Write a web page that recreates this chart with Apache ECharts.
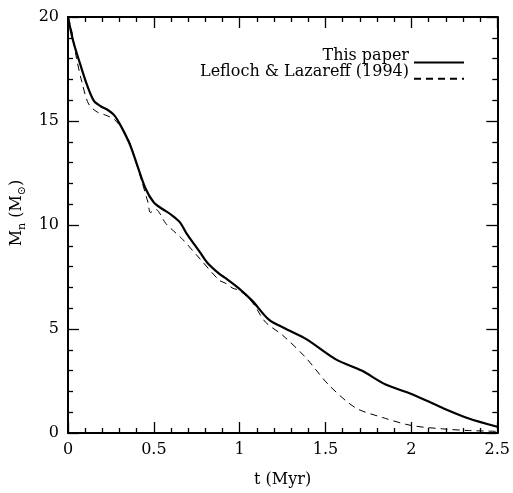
<!DOCTYPE html>
<html><head><meta charset="utf-8">
<script src="https://cdn.jsdelivr.net/npm/echarts@6/dist/echarts.min.js"></script>
<style>html,body{margin:0;padding:0;background:#fff}#c{width:513px;height:493px}</style>
</head><body><div id="c"></div>
<script>
var seriesNames = ['This paper', 'Lefloch & Lazareff (1994)'];
var thisPaperT = [0, 0.03, 0.07, 0.11, 0.15, 0.19, 0.23, 0.27, 0.31, 0.36, 0.40, 0.45, 0.50, 0.55, 0.60, 0.65, 0.69, 0.77, 0.81, 0.88, 0.92, 1.00, 1.075, 1.17, 1.27, 1.39, 1.56, 1.71, 1.85, 2.00, 2.18, 2.33, 2.50];
var thisPaperM = [20, 18.85, 17.76, 16.75, 15.98, 15.71, 15.54, 15.27, 14.73, 13.88, 12.95, 11.78, 11.08, 10.77, 10.5, 10.15, 9.6, 8.67, 8.2, 7.66, 7.43, 6.92, 6.34, 5.45, 5.0, 4.5, 3.54, 3.0, 2.33, 1.88, 1.21, 0.71, 0.3];
var leflochT = [0, 0.02, 0.05, 0.08, 0.12, 0.17, 0.22, 0.27, 0.32, 0.36, 0.39, 0.43, 0.466, 0.48, 0.51, 0.57, 0.63, 0.67, 0.77, 0.88, 0.92, 0.96, 1.00, 1.075, 1.15, 1.25, 1.385, 1.52, 1.675, 1.83, 2.00, 2.18, 2.33, 2.50];
var leflochM = [20, 19.4, 18.0, 16.9, 15.82, 15.43, 15.28, 15.07, 14.58, 13.95, 13.18, 12.09, 11.08, 10.6, 10.75, 10.07, 9.6, 9.29, 8.36, 7.35, 7.19, 6.96, 6.85, 6.26, 5.33, 4.7, 3.62, 2.3, 1.21, 0.75, 0.36, 0.2, 0.12, 0.08];
var xTicks = [0, 0.5, 1, 1.5, 2, 2.5];
var yTicks = [0, 5, 10, 15, 20];

function pairs(a, b) { return a.map(function (v, i) { return [v, b[i]]; }); }
var FONT = 'DejaVu Serif';
var chart = echarts.init(document.getElementById('c'), null, {renderer: 'canvas'});
var axisCommon = {
  axisLine: {show: true, onZero: false, lineStyle: {color: '#000', width: 2}},
  axisTick: {show: true, inside: true, length: 11, lineStyle: {color: '#000', width: 1.3}},
  minorTick: {show: true, splitNumber: 5, length: 5, lineStyle: {color: '#000', width: 1.3}},
  splitLine: {show: false}
};
chart.setOption({
  animation: false,
  backgroundColor: '#fff',
  grid: {left: 68, top: 17, width: 431, height: 429, containLabel: false},
  legend: {
    orient: 'vertical', align: 'right', right: 43, top: 43,
    itemWidth: 50, itemHeight: 12, itemGap: -3,
    data: seriesNames,
    itemStyle: {opacity: 0},
    formatter: function (n) { return '{t|' + n + '}'; },
    textStyle: {fontFamily: FONT, fontSize: 16, color: '#000',
      rich: {t: {fontFamily: FONT, fontSize: 16, color: '#000', padding: [0, 0, 13, 0]}}}
  },
  xAxis: [
    Object.assign({type: 'value', min: xTicks[0], max: xTicks[xTicks.length - 1], interval: 0.5, position: 'bottom',
      name: 't (Myr)', nameLocation: 'middle', nameGap: 39,
      nameTextStyle: {fontFamily: FONT, fontSize: 16, color: '#000'},
      axisLabel: {margin: 9, fontFamily: FONT, fontSize: 16, color: '#000'}}, axisCommon),
    Object.assign({type: 'value', min: 0, max: 2.5, interval: 0.5, position: 'top', axisLabel: {show: false}}, axisCommon)
  ],
  yAxis: [
    Object.assign({type: 'value', min: yTicks[0], max: yTicks[yTicks.length - 1], interval: 5, position: 'left',
      name: '{m|M}{s|n}{m| (M}{s|⊙}{m|)}', nameLocation: 'middle', nameGap: 39, nameRotate: 90,
      nameTextStyle: {fontFamily: FONT, color: '#000', padding: [0, 0, 0, 24], rich: {
        m: {fontFamily: FONT, fontSize: 16, color: '#000'},
        s: {fontFamily: FONT, fontSize: 11, color: '#000', verticalAlign: 'bottom', padding: [10, 0, 0, 0]}
      }},
      axisLabel: {margin: 9, fontFamily: FONT, fontSize: 16, color: '#000'}}, axisCommon),
    Object.assign({type: 'value', min: 0, max: 20, interval: 5, position: 'right', axisLabel: {show: false}}, axisCommon)
  ],
  series: [
    {name: seriesNames[0], type: 'line', data: pairs(thisPaperT, thisPaperM), smooth: 0.3, symbol: 'none',
      lineStyle: {color: '#000', width: 2.2, type: 'solid'}, itemStyle: {color: '#000'}},
    {name: seriesNames[1], type: 'line', data: pairs(leflochT, leflochM), smooth: 0.3, symbol: 'none',
      lineStyle: {color: '#000', width: 1, type: [7, 5]}, itemStyle: {color: '#000'}}
  ]
});
</script></body></html>
